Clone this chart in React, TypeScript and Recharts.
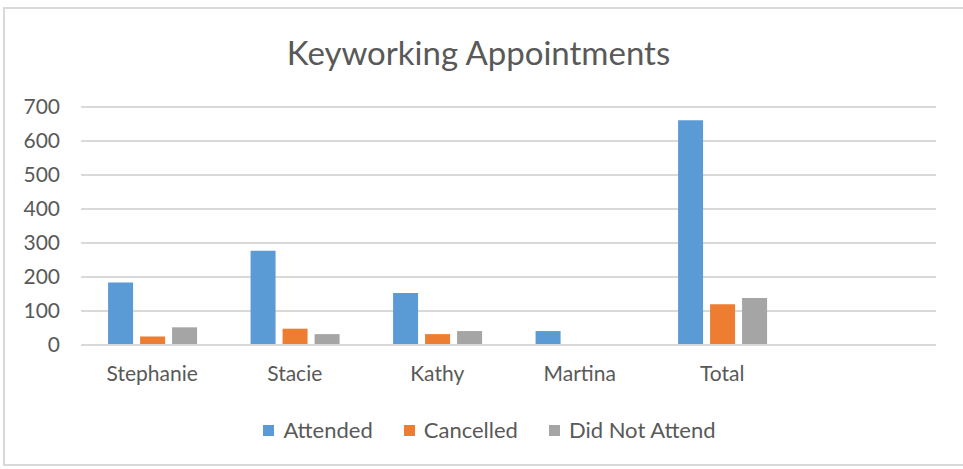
import React from "react";
import { BarChart, Bar, XAxis, YAxis, CartesianGrid } from "recharts";

const categories = ["Stephanie", "Stacie", "Kathy", "Martina", "Total", ""];
const attended = [184, 277, 153, 41, 661, null];
const cancelled = [25, 48, 32, null, 120, null];
const didNotAttend = [52, 32, 41, null, 138, null];
const yTicks = [0, 100, 200, 300, 400, 500, 600, 700];

const seriesNames = ["Attended", "Cancelled", "Did Not Attend"];
const seriesKeys = ["attended", "cancelled", "dna"];
const seriesColors = ["#5b9bd5", "#ed7d31", "#a5a5a5"];

const data = categories.map((c, i) => ({
  name: c,
  attended: attended[i],
  cancelled: cancelled[i],
  dna: didNotAttend[i],
}));

const FONT = "Lato, 'Open Sans', sans-serif";
const TEXT = "#595959";

export default function App() {
  return (
    <div style={{ position: "absolute", left: 0, top: 0, width: 963, height: 469, background: "#fff", fontFamily: FONT }}>
      <div
        style={{
          position: "absolute",
          left: 3,
          top: 7,
          width: 970,
          height: 459,
          border: "2px solid #d9d9d9",
          boxSizing: "border-box",
        }}
      />
      <div
        style={{
          position: "absolute",
          left: 0,
          width: 963,
          top: 32,
          textAlign: "center",
          fontSize: 33,
          color: TEXT,
          lineHeight: "40px",
          paddingRight: 6,
          boxSizing: "border-box",
        }}
      >
        Keyworking Appointments
      </div>
      <div style={{ position: "absolute", left: 0, top: 0 }}>
        <BarChart
          width={963}
          height={469}
          data={data}
          margin={{ top: 107, right: 27, left: 0, bottom: 0 }}
          barCategoryGap="19%"
          barGap={7}
        >
          <CartesianGrid vertical={false} stroke="#d9d9d9" strokeWidth={2} />
          <YAxis
            width={81}
            domain={[0, 700]}
            ticks={yTicks}
            axisLine={false}
            tickLine={false}
            tickSize={0}
            tickMargin={21}
            tick={{ fill: TEXT, fontSize: 21, fontFamily: FONT }}
            interval={0}
          />
          <XAxis
            dataKey="name"
            height={124}
            axisLine={{ stroke: "#d9d9d9", strokeWidth: 2 }}
            tickLine={false}
            tickSize={0}
            tickMargin={21}
            interval={0}
            tick={{ fill: TEXT, fontSize: 21, fontFamily: FONT }}
          />
          {seriesKeys.map((k, i) => (
            <Bar key={k} dataKey={k} name={seriesNames[i]} fill={seriesColors[i]} isAnimationActive={false} />
          ))}
        </BarChart>
      </div>
      <div
        style={{
          position: "absolute",
          left: 0,
          top: 417,
          width: 963,
          display: "flex",
          justifyContent: "center",
          alignItems: "center",
          fontSize: 22,
          color: TEXT,
          lineHeight: "26px",
          paddingLeft: 16,
          boxSizing: "border-box",
        }}
      >
        {seriesNames.map((n, i) => (
          <div key={n} style={{ display: "flex", alignItems: "center", marginLeft: i === 0 ? 0 : 31 }}>
            <div style={{ width: 11, height: 11, background: seriesColors[i], marginRight: 9 }} />
            <span>{n}</span>
          </div>
        ))}
      </div>
    </div>
  );
}
